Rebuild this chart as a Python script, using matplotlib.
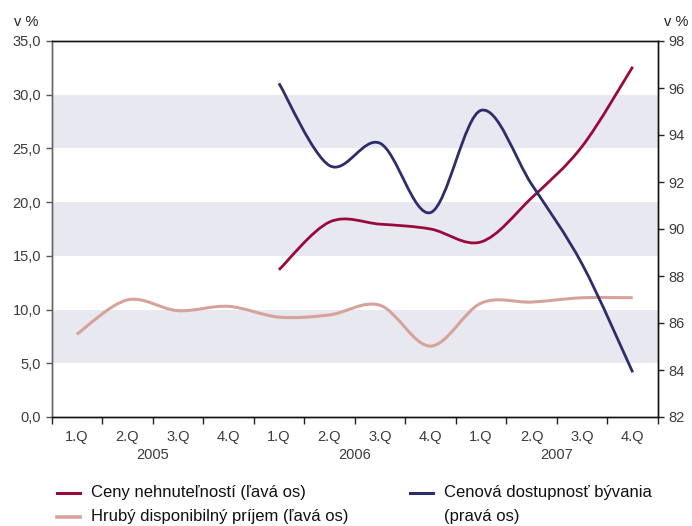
import matplotlib
matplotlib.use("Agg")
import matplotlib.pyplot as plt
from matplotlib import font_manager
from matplotlib.path import Path
from matplotlib.patches import PathPatch
from matplotlib.lines import Line2D
from matplotlib.ticker import FuncFormatter
import matplotlib.transforms as mtransforms
import numpy as np

# --- data -------------------------------------------------------------
quarters = ["1.Q", "2.Q", "3.Q", "4.Q"] * 3
years = ["2005", "2006", "2007"]

# Hrubý disponibilný príjem (left axis), 1.Q 2005 .. 4.Q 2007
income = [7.7, 10.9, 9.9, 10.3, 9.3, 9.5, 10.4, 6.6, 10.6, 10.7, 11.1, 11.1]
# Ceny nehnuteľností (left axis), from 1.Q 2006
prices = [13.7, 18.15, 17.95, 17.5, 16.3, 20.4, 25.2, 32.6]
# Cenová dostupnosť bývania (right axis), from 1.Q 2006
affordability = [96.2, 92.7, 93.65, 90.7, 95.05, 91.9, 88.5, 83.9]

names = ["Ceny nehnuteľností (ľavá os)",
         "Hrubý disponibilný príjem (ľavá os)",
         "Cenová dostupnosť bývania\n(pravá os)"]

# --- style ------------------------------------------------------------
available = {f.name for f in font_manager.fontManager.ttflist}
family = next((f for f in ["Liberation Sans Narrow", "DejaVu Sans Condensed",
                           "Liberation Sans"] if f in available), "DejaVu Sans")
plt.rcParams["font.family"] = [family, "DejaVu Sans"]

c_prices = "#990a3c"
c_income = "#d6a39b"
c_afford = "#2e2d6b"
c_band = "#e8e8f1"
c_text = "#3c3c3c"


def smooth_path(xs, ys):
    """Cubic Bezier path through the points (Catmull-Rom style smoothing)."""
    pts = np.column_stack([xs, ys]).astype(float)
    n = len(pts)
    verts = [pts[0]]
    codes = [Path.MOVETO]
    for i in range(n - 1):
        p0 = pts[i - 1] if i > 0 else pts[i]
        p1 = pts[i]
        p2 = pts[i + 1]
        p3 = pts[i + 2] if i + 2 < n else pts[i + 1]
        c1 = p1 + (p2 - p0) / 6.0
        c2 = p2 - (p3 - p1) / 6.0
        verts += [c1, c2, p2]
        codes += [Path.CURVE4] * 3
    return Path(verts, codes)


W, H = 692, 526
fig = plt.figure(figsize=(W / 100, H / 100), dpi=100)
left, right, top, bottom = 51.5, 658, 41, 417
ax = fig.add_axes([left / W, 1 - bottom / H, (right - left) / W, (bottom - top) / H])
ax2 = ax.twinx()

ax.set_xlim(-0.5, 11.5)
ax.set_ylim(0, 35)
ax2.set_ylim(82, 98)

for lo in (5, 15, 25):
    ax.axhspan(lo, lo + 5, color=c_band, zorder=0, lw=0)

x_all = np.arange(len(quarters))
x_late = x_all[4:]

ax.add_patch(PathPatch(smooth_path(x_all, income), fill=False,
                       edgecolor=c_income, lw=2.2, zorder=3, capstyle="butt"))
ax.add_patch(PathPatch(smooth_path(x_late, prices), fill=False,
                       edgecolor=c_prices, lw=2.0, zorder=4, capstyle="butt"))
ax2.add_patch(PathPatch(smooth_path(x_late, affordability), fill=False,
                        edgecolor=c_afford, lw=2.0, zorder=4, capstyle="butt"))

# axes, spines, ticks
ax.set_yticks(np.arange(0, 35.1, 5))
ax.yaxis.set_major_formatter(FuncFormatter(lambda v, p: f"{v:.1f}".replace(".", ",")))
ax2.set_yticks(np.arange(82, 98.1, 2))
ax.set_xticks(x_all)
ax.set_xticklabels(quarters)
ax.set_xticks(np.arange(-0.5, 11.6, 1), minor=True)
ax.tick_params(axis="x", which="major", length=0, pad=9, labelsize=10.5, labelcolor=c_text)
ax.tick_params(axis="x", which="minor", length=5, direction="out", width=1, color="#222222")
ax.tick_params(axis="y", length=4, width=1, labelsize=10.5, labelcolor=c_text, color="#555555")
ax2.tick_params(axis="y", length=4, width=1, labelsize=10.5, labelcolor=c_text, color="#222222")

for a in (ax, ax2):
    a.spines["top"].set_color("#111111")
    a.spines["bottom"].set_color("#111111")
    a.spines["right"].set_color("#111111")
    a.spines["left"].set_color("#666666")
    for s in a.spines.values():
        s.set_linewidth(1.0)
ax2.set_zorder(ax.get_zorder() + 1)
ax2.patch.set_visible(False)

# year labels under the quarters
trans = mtransforms.blended_transform_factory(ax.transData, fig.transFigure)
for k, y in enumerate(years):
    ax.text(4 * k + 1.5, 1 - 455 / H, y, transform=trans, ha="center", va="center",
            fontsize=10.5, color=c_text)

# unit labels
fig.text(26 / W, 1 - 22 / H, "v %", ha="center", va="center", fontsize=10.5, color="#222222")
fig.text(676 / W, 1 - 22 / H, "v %", ha="center", va="center", fontsize=10.5, color="#222222")

# legend
def legend_entry(x0, y0, color, text, lw):
    fig.add_artist(Line2D([x0 / W, (x0 + 23) / W], [1 - y0 / H, 1 - y0 / H],
                          color=color, lw=lw, transform=fig.transFigure))
    fig.text((x0 + 34) / W, 1 - y0 / H, text, ha="left", va="center",
             fontsize=12, color="#111111", linespacing=1.45)

legend_entry(57, 493, c_prices, names[0], 2.2)
legend_entry(57, 517, c_income, names[1], 2.6)
fig.add_artist(Line2D([410 / W, 433 / W], [1 - 493 / H, 1 - 493 / H],
                      color=c_afford, lw=2.2, transform=fig.transFigure))
fig.text(444 / W, 1 - 493 / H, "Cenová dostupnosť bývania", ha="left", va="center",
         fontsize=12, color="#111111")
fig.text(444 / W, 1 - 517 / H, "(pravá os)", ha="left", va="center",
         fontsize=12, color="#111111")

fig.savefig("out.png", dpi=100)
